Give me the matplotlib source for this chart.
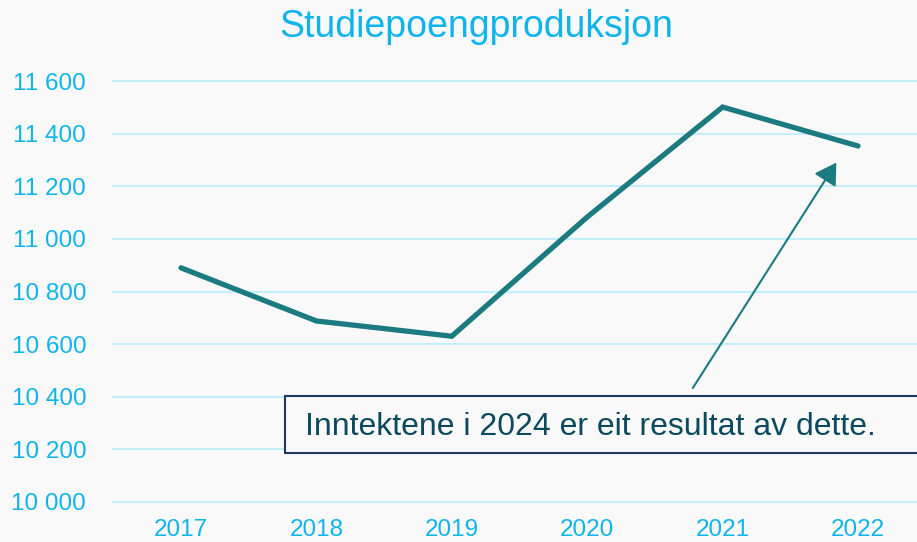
import matplotlib.pyplot as plt
from matplotlib.patches import Rectangle

plt.rcParams['font.family'] = ['Liberation Sans', 'DejaVu Sans']

# Data
years = ['2017', '2018', '2019', '2020', '2021', '2022']
credits = [10890, 10688, 10630, 11083, 11501, 11353]
y_ticks = [10000, 10200, 10400, 10600, 10800, 11000, 11200, 11400, 11600]
y_labels = ['10 000', '10 200', '10 400', '10 600', '10 800', '11 000', '11 200', '11 400', '11 600']

bg = '#f9f9f9'
blue = '#0fb4ea'
teal = '#1b7b80'
grid = '#c4edfb'

fig = plt.figure(figsize=(9.17, 5.42), dpi=100, facecolor=bg)
W, H = 917, 542
# axes spans category bands; right band runs slightly past the figure edge
ax = fig.add_axes([113.3 / W, 1 - 502 / H, 812.4 / W, (502 - 81) / H])
ax.set_facecolor(bg)

x = list(range(len(years)))
ax.plot(x, credits, color=teal, linewidth=3.8, solid_capstyle='round',
        solid_joinstyle='miter', clip_on=False, zorder=3)

ax.set_xlim(-0.5, len(years) - 0.5)
ax.set_ylim(10000, 11600)
ax.set_yticks(y_ticks)
ax.set_yticklabels(y_labels)
ax.set_xticks(x)
ax.set_xticklabels(years)
ax.tick_params(axis='both', length=0, labelsize=17.5, labelcolor=blue)
ax.tick_params(axis='y', pad=19.5)
ax.tick_params(axis='x', pad=12)
ax.grid(axis='y', color=grid, linewidth=1.5)
for gl in ax.get_ygridlines():
    gl.set_clip_on(False)
ax.set_axisbelow(True)
for s in ax.spines.values():
    s.set_visible(False)

fig.text(476 / W, 1 - 27 / H, 'Studiepoengproduksjon', fontsize=27,
         color=blue, ha='center', va='center')

# annotation box and arrow
fig.patches.append(Rectangle((285 / W, 1 - 453 / H), 700 / W, 57 / H,
                             transform=fig.transFigure, facecolor=bg,
                             edgecolor='#1f3864', linewidth=1.5, zorder=5))
fig.text(305 / W, 1 - 427 / H, 'Inntektene i 2024 er eit resultat av dette.',
         fontsize=23, color='#0b4a5e', ha='left', va='center', zorder=6)
ax.annotate('', xy=(4.84, 11290), xytext=(3.78, 10433),
            arrowprops=dict(arrowstyle='-|>,head_length=0.5,head_width=0.3',
                            color=teal, lw=1.5,
                            mutation_scale=26, shrinkA=0, shrinkB=0))

fig.savefig('out.png', dpi=100, facecolor=bg)
